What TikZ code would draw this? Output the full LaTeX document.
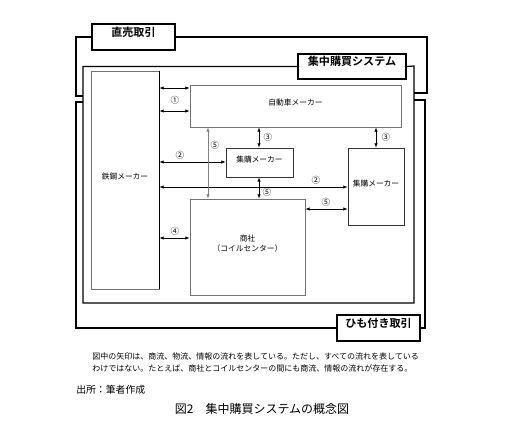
\documentclass[tikz,border=0pt]{standalone}
\usepackage{fontspec}
\setmainfont{Noto Sans CJK JP}[BoldFont={* Bold}]
\usepackage{tikz}
\usetikzlibrary{arrows.meta}
\usetikzlibrary{fit}

\tikzset{
  box/.style={draw=black!55, line width=0.6pt, inner sep=0pt, align=center,
    font=\fontsize{5.8}{7.6}\selectfont},
  tag/.style={draw, line width=1pt, fill=white, inner sep=0pt,
    font=\fontsize{8.3}{10}\selectfont\bfseries},
  frame/.style={line width=0.9pt},
  dar/.style={{Latex[length=3.2pt,width=2.6pt]}-{Latex[length=3.2pt,width=2.6pt]}, line width=0.5pt},
  num/.style={inner sep=0pt, font=\fontsize{6.4}{7}\selectfont},
}

\begin{document}
\begin{tikzpicture}[x=0.75pt, y=-0.75pt]
        \useasboundingbox (0,0) rectangle (512,436);

        %LABEL BOXES
        \node[tag, fit={(92,24) (175,50)}] (direct) {直売取引};
        \node[tag, fit={(298,54) (406,79)}] (system) {集中購買システム};
        \node[tag, fit={(337,315) (420,341)}] (himo) {ひも付き取引};

        %FRAMES
        \draw[frame] (83,96) -| (76,37) -- (direct.west);
        \draw[frame] (direct.east) -- (427,37) |- (414,93);
        \draw[frame] (system.west) -| (83,303) -| (414,66) -- (system.east);
        \draw[frame] (83,102) -| (76,328) -- (himo.west);
        \draw[frame] (himo.east) -| (425,100) -- (414,100);

        %BOXES
        \node[box, fit={(91,71) (159,289)}] (steel) {鉄鋼メーカー};
        \draw[line width=0.6pt] (steel.north east) -- (steel.south east);
        \node[box, fit={(190,85) (401,127)}] (auto) {自動車メーカー};
        \node[box, draw=black!80, fit={(226,148) (293,177)}] (shu1) {集購メーカー};
        \node[box, draw=black!80, fit={(348,148) (404,225)}] (shu2) {集購メーカー};
        \node[box, fit={(190,199) (305,295)}] (trade) {商社\\（コイルセンター）};

        %ROWS AND COLUMNS
        \coordinate (r1a) at (0,88);
        \coordinate (r1b) at (0,111);
        \coordinate (r2a) at (0,162);
        \coordinate (r2b) at (0,187);
        \coordinate (r5) at (0,209);
        \coordinate (r4) at (0,238);
        \coordinate (c5) at (208,0);
        \coordinate (c3a) at (259,0);
        \coordinate (c3b) at (376,0);

        %ARROWS
        \draw[dar] (steel.east |- r1a) -- (auto.west |- r1a);
        \draw[dar] (steel.east |- r1b) -- (auto.west |- r1b);
        \node[num] (n1) at (175,100) {①};
        \draw[dar] (steel.east |- r2a) -- (shu1.west |- r2a);
        \node[num] (n2a) at (180,155) {②};
        \draw[dar] (steel.east |- r2b) -- (shu2.west |- r2b);
        \node[num] (n2b) at (316,180) {②};
        \draw[dar] (auto.south -| c3a) -- (shu1.north -| c3a);
        \node[num] (n3a) at (268,137) {③};
        \draw[dar] (auto.south -| c3b) -- (shu2.north -| c3b);
        \node[num] (n3b) at (386,137) {③};
        \draw[dar, draw=black!50] (auto.south -| c5) -- (trade.north -| c5);
        \node[num] (n5a) at (215,145) {⑤};
        \draw[dar] (shu1.south -| c3a) -- (trade.north -| c3a);
        \node[num] (n5b) at (267,192) {⑤};
        \draw[dar] (trade.east |- r5) -- (shu2.west |- r5);
        \node[num] (n5c) at (326,202) {⑤};
        \draw[dar] (steel.east |- r4) -- (trade.west |- r4);
        \node[num] (n4) at (175,231) {④};

        %TEXTS
        \node[anchor=west, align=left, inner sep=0pt, font=\fontsize{6.0}{9}\selectfont] (note) at (92,362)
            {図中の矢印は、商流、物流、情報の流れを表している。ただし、すべての流れを表している\\
             わけではない。たとえば、商社とコイルセンターの間にも商流、情報の流れが存在する。};
        \node[anchor=west, inner sep=0pt, font=\fontsize{7.4}{9}\selectfont] (source) at (76,390) {出所：筆者作成};
        \node[inner sep=0pt, font=\fontsize{9}{10}\selectfont] (caption) at (262,409) {図2　集中購買システムの概念図};
    \end{tikzpicture}
\end{document}
